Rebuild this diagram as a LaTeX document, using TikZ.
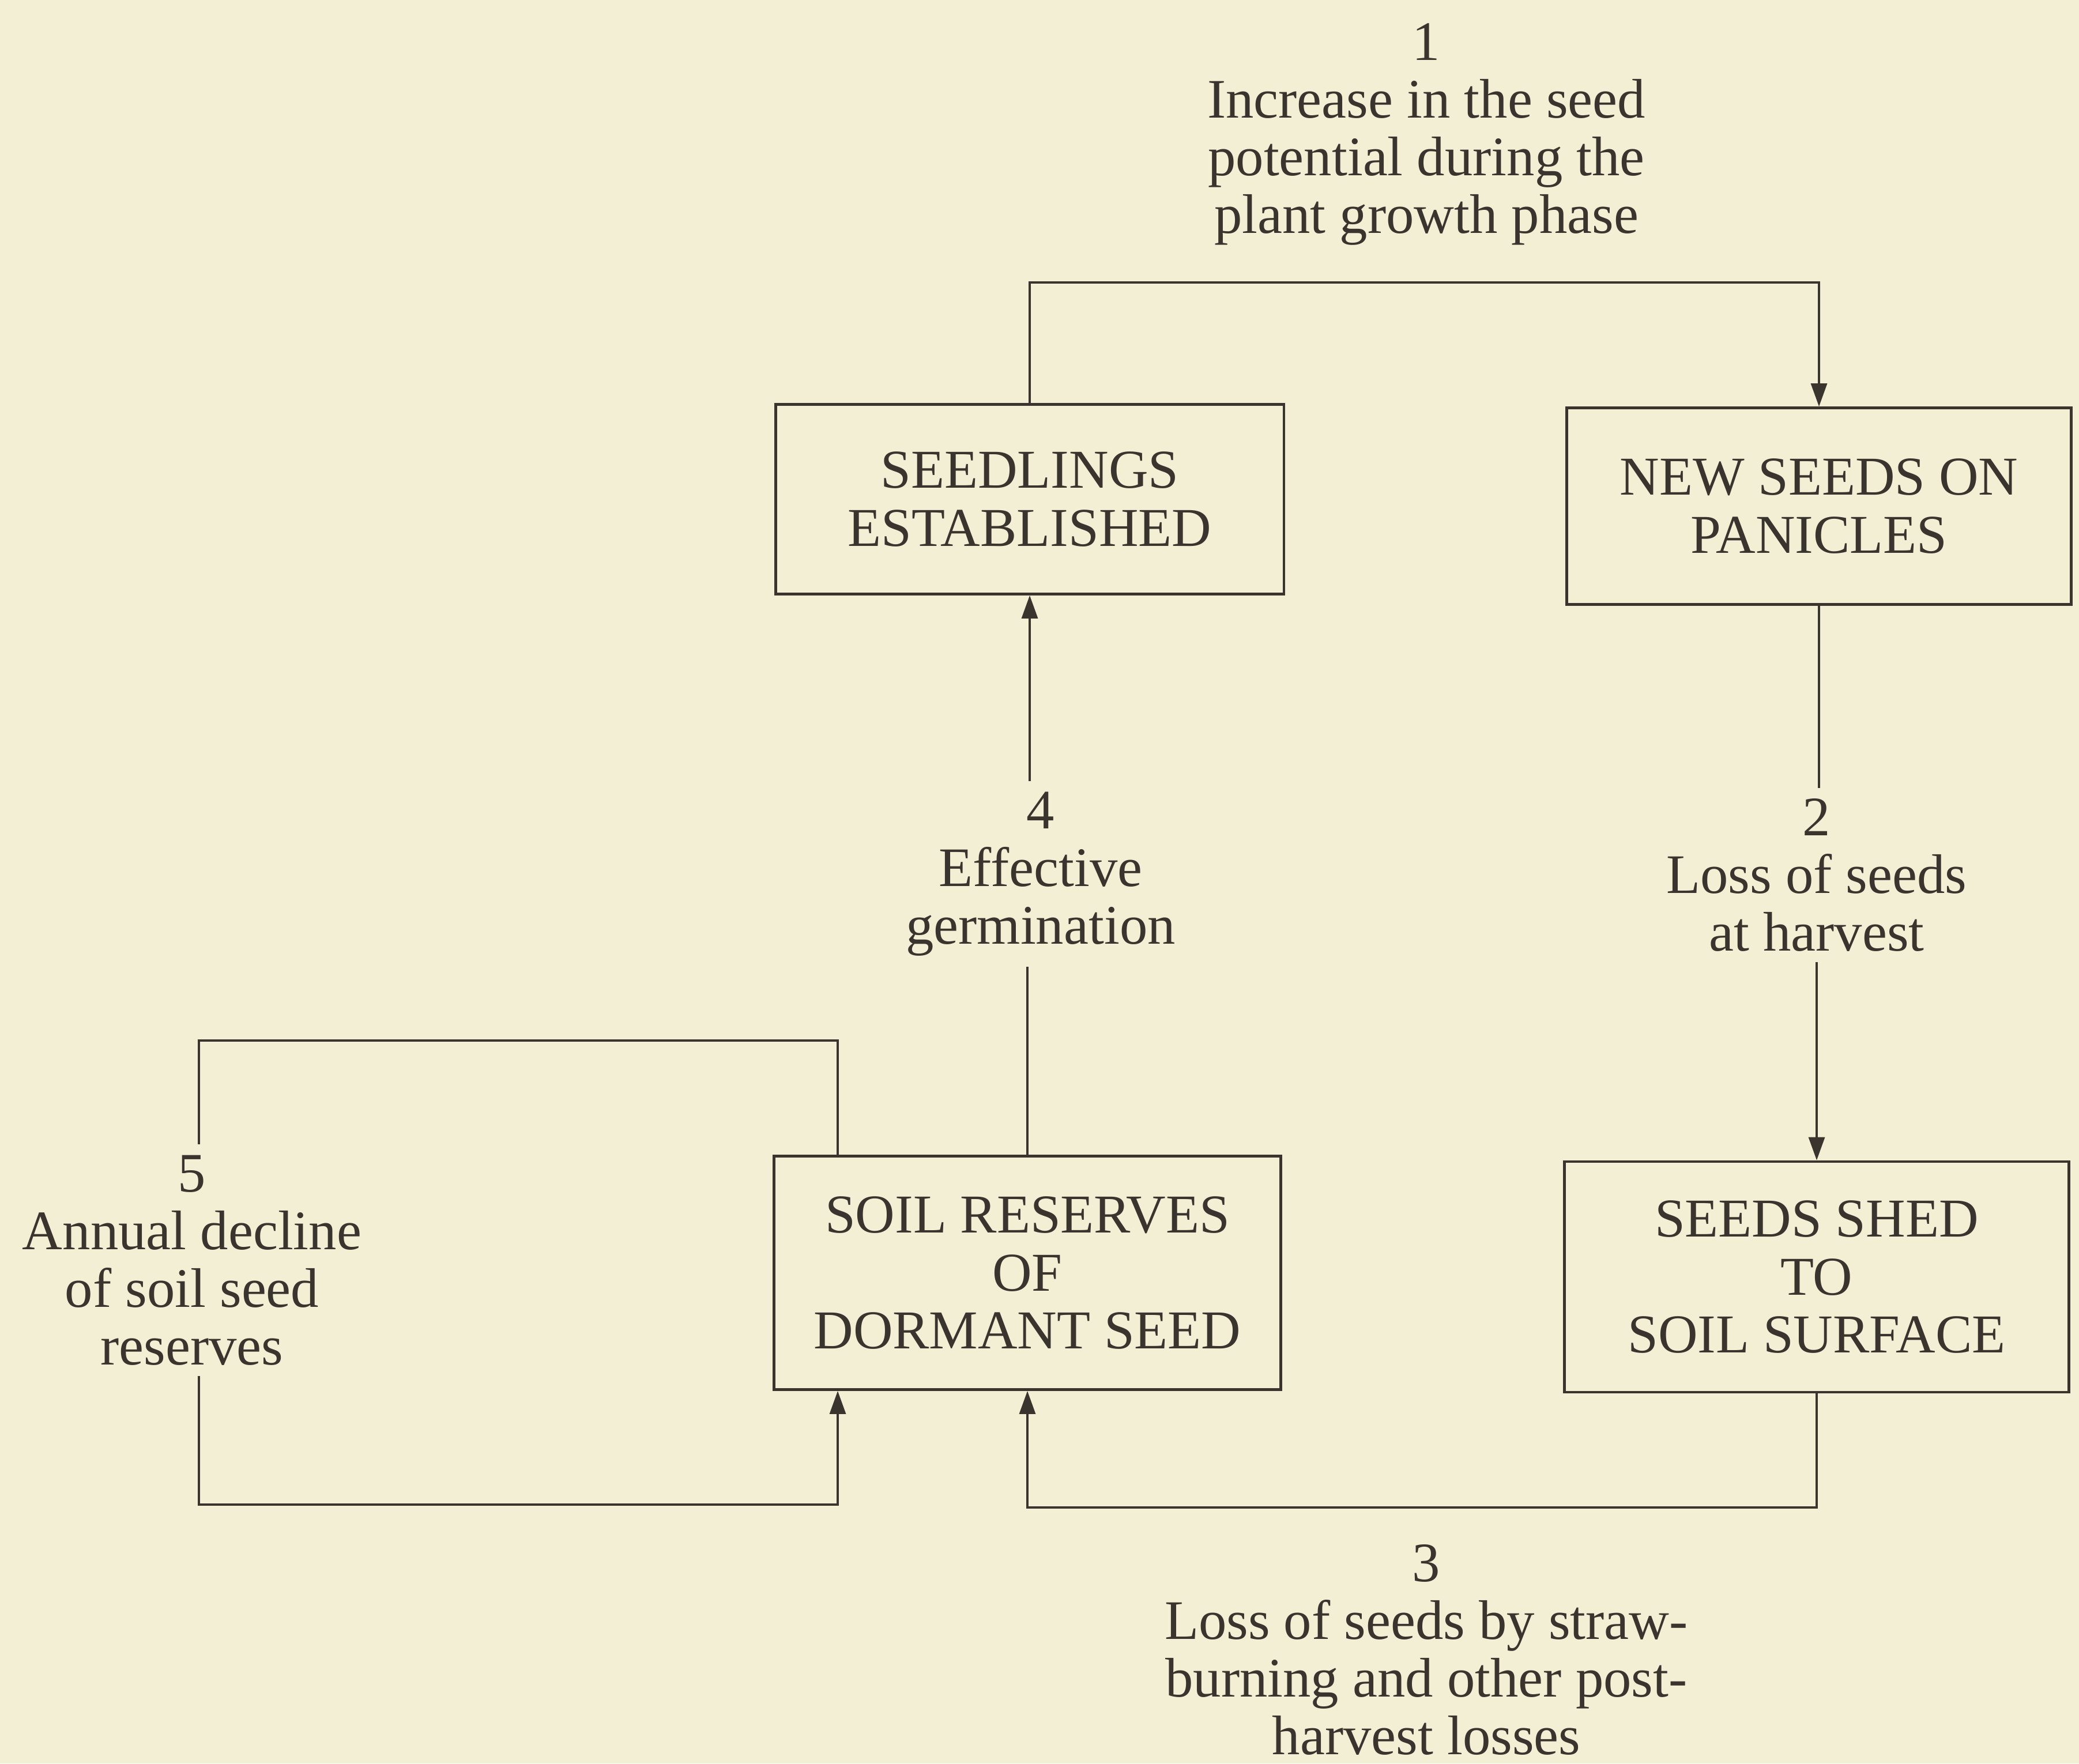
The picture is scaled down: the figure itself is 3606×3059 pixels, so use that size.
\documentclass[tikz,border=0pt]{standalone}
\usepackage{fontspec}
\setmainfont{Liberation Serif}
\usetikzlibrary{arrows.meta}
\definecolor{paper}{RGB}{243,239,213}
\definecolor{ink}{RGB}{58,52,46}
\begin{document}
\begin{tikzpicture}[x=0.01cm,y=-0.01cm,
  box/.style={draw=ink,line width=1.3pt,text=ink,align=center,inner sep=0pt,
    font=\fontsize{27}{28.6}\selectfont},
  lab/.style={text=ink,align=center,inner xsep=0pt,inner ysep=0.18cm,
    font=\fontsize{27.5}{28.4}\selectfont},
  conn/.style={draw=ink,line width=0.9pt},
  arr/.style={conn,-{Triangle[length=0.4cm,width=0.28cm]}}]
\fill[paper] (0,0) rectangle (3606,3059);
\useasboundingbox (0,0) rectangle (3606,3059);
% boxes
\node[box,minimum width=8.81cm,minimum height=3.29cm] (se) at (1786,866) {SEEDLINGS\\ESTABLISHED};
\node[box,minimum width=8.74cm,minimum height=3.41cm] (np) at (3155,878) {NEW SEEDS ON\\PANICLES};
\node[box,minimum width=8.74cm,minimum height=4.00cm] (ss) at (3151,2215) {SEEDS SHED\\TO\\SOIL SURFACE};
\node[box,minimum width=8.79cm,minimum height=4.05cm] (sr) at (1782,2208) {SOIL RESERVES\\OF\\DORMANT SEED};
% labels
\node[lab] (l1) at (2474,233) {1\\Increase in the seed\\potential during the\\plant growth phase};
\node[lab] (l2) at (3151,1518) {2\\Loss of seeds\\at harvest};
\node[lab,inner ysep=0pt] (l3) at (2474,2862) {3\\Loss of seeds by straw-\\burning and other post-\\harvest losses};
\node[lab] (l4) at (1805,1516) {4\\Effective\\germination};
\node[lab] (l5) at (333,2186) {5\\Annual decline\\of soil seed\\reserves};
% helper coordinates
\coordinate (t1) at (1786,490);
\coordinate (b3) at (3151,2615);
\coordinate (k1) at (345,1805);
\coordinate (k3) at (1453,2610);
% connectors
\draw[arr] (se.north) -- (se.north |- t1) -| (np.north);
\draw[conn] (np.south) -- (np.south |- l2.north);
\draw[arr] (ss.north |- l2.south) -- (ss.north);
\draw[arr] (ss.south) -- (ss.south |- b3) -| (sr.south);
\draw[conn] (sr.north) -- (sr.north |- l4.south);
\draw[arr] (se.south |- l4.north) -- (se.south);
\draw[conn] (k3 |- sr.north) |- (k1) -- (k1 |- l5.north);
\draw[arr] (k1 |- l5.south) |- (k3) -- (k3 |- sr.south);
\end{tikzpicture}
\end{document}
